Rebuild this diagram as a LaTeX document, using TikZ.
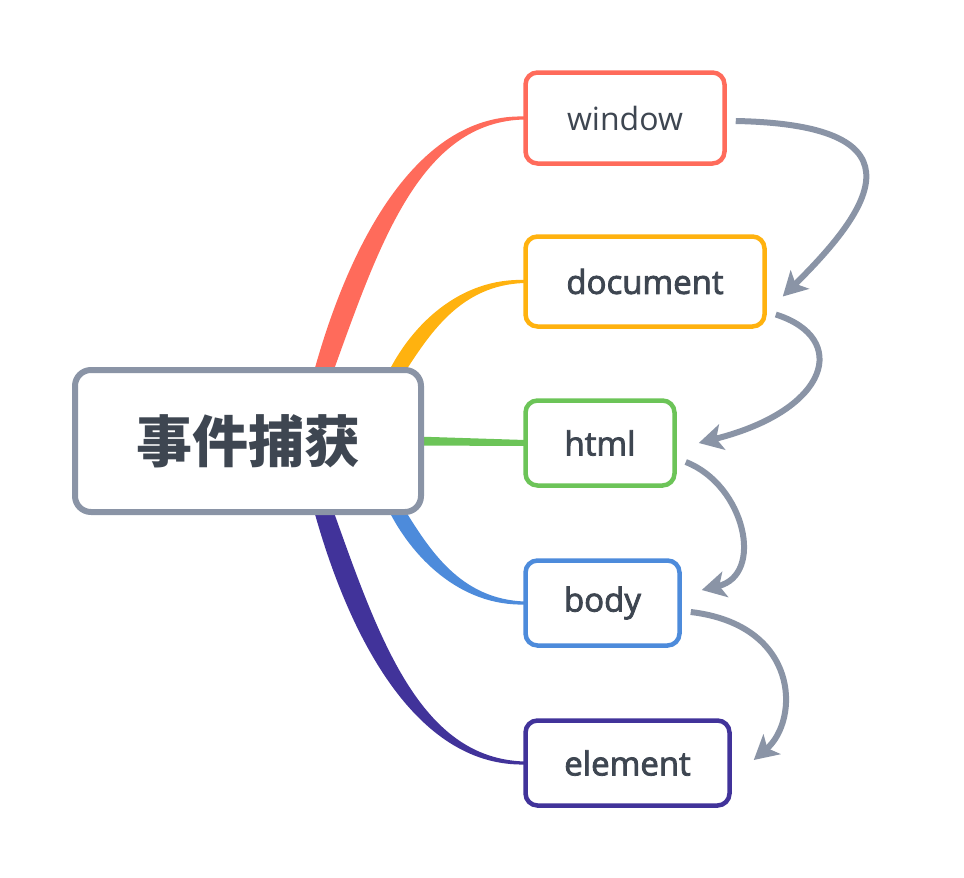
\documentclass[tikz,border=0pt]{standalone}
\usepackage{fontspec}
\newfontfamily\cjk{Noto Sans CJK SC}
\newfontfamily\osans{Open Sans}
\newfontfamily\osemi{Open Sans}[FakeBold=2.5]
\usetikzlibrary{calc,arrows.meta,backgrounds}
\definecolor{cgray}{HTML}{8A94A6}
\definecolor{txt}{HTML}{3E4651}
\definecolor{cred}{HTML}{FF6B5B}
\definecolor{corange}{HTML}{FFB20F}
\definecolor{cgreen}{HTML}{6CC458}
\definecolor{cblue}{HTML}{4D8BDB}
\definecolor{cpurple}{HTML}{41339A}
\tikzset{
  box/.style={draw, rounded corners=12pt, line width=4.5pt, fill=white, inner sep=0pt, text=txt, minimum height=85pt},
  lbl/.style={font=\osemi\fontsize{33}{33}\selectfont},
  flow/.style={draw=cgray, line width=6pt, -{Stealth[length=24pt,width=26pt,inset=6pt]}},
}
\begin{document}
\begin{tikzpicture}[x=1pt,y=-1pt]
\useasboundingbox (0,0) rectangle (964,878);
\node[box, draw=cgray, line width=6pt, rounded corners=16pt, minimum width=346pt, minimum height=142pt] (c) at (248,441)
  {\cjk\bfseries\fontsize{56}{56}\selectfont 事件捕获};
\node[box, draw=cred, minimum width=199pt, minimum height=91pt] (win) at (625,118)
  {\osans\fontsize{32}{32}\selectfont window};
\node[box, draw=corange, lbl, minimum width=239pt, minimum height=90pt] (doc) at (645,281.5) {document};
\node[box, draw=cgreen, lbl, minimum width=149pt] (html) at (600,443) {html};
\node[box, draw=cblue, lbl, minimum width=154pt] (body) at (602.5,603) {body};
\node[box, draw=cpurple, lbl, minimum width=204pt] (el) at (627.5,763) {element};
\begin{pgfonlayer}{background}
% red branch
\fill[cred] ($(c.north)+(65,8)$) .. controls (351,236) and (420,113) .. ($(win.west)+(2,-1.5)$)
  -- ($(win.west)+(2,1.5)$) .. controls (420,121) and (379,245) .. ($(c.north)+(84,8)$) -- cycle;
% orange branch
\fill[corange] ($(c.north)+(139,8)$) .. controls (411,325) and (460,277.5) .. ($(doc.west)+(2,-1.5)$)
  -- ($(doc.west)+(2,1.5)$) .. controls (460,284.5) and (429,335) .. ($(c.north)+(155,8)$) -- cycle;
% green branch
\fill[cgreen] ($(c.east)+(-8,-4.5)$) .. controls (470,438) .. ($(html.west)+(2,-3)$)
  -- ($(html.west)+(2,3)$) .. controls (470,446) .. ($(c.east)+(-8,4.5)$) -- cycle;
% blue branch
\fill[cblue] ($(c.south)+(139,-8)$) .. controls (411,557) and (460,606.5) .. ($(body.west)+(2,1.5)$)
  -- ($(body.west)+(2,-1.5)$) .. controls (460,599.5) and (429,549) .. ($(c.south)+(155,-8)$) -- cycle;
% purple branch
\fill[cpurple] ($(c.south)+(65,-8)$) .. controls (351,646) and (420,767) .. ($(el.west)+(2,1.5)$)
  -- ($(el.west)+(2,-1.5)$) .. controls (420,759) and (379,639) .. ($(c.south)+(84,-8)$) -- cycle;
\end{pgfonlayer}
% flow arrows
\coordinate (a1s) at ($(win.east)+(9,3)$);
\coordinate (a1e) at ($(doc.east)+(16,15)$);
\draw[flow] (a1s) .. controls (935,125) and (865,215) .. (a1e);
\coordinate (a2s) at ($(doc.east)+(9,33)$);
\coordinate (a2e) at ($(html.east)+(22,0)$);
\draw[flow] (a2s) .. controls (850,338) and (830,410) .. (a2e);
\coordinate (a3s) at ($(html.east)+(9,19)$);
\coordinate (a3e) at ($(body.east)+(20,-13)$);
\draw[flow] (a3s) .. controls (745,485) and (765,575) .. (a3e);
\coordinate (a4s) at ($(body.east)+(9,9)$);
\coordinate (a4e) at ($(el.east)+(22,-3)$);
\draw[flow] (a4s) .. controls (800,625) and (800,720) .. (a4e);
\end{tikzpicture}
\end{document}
